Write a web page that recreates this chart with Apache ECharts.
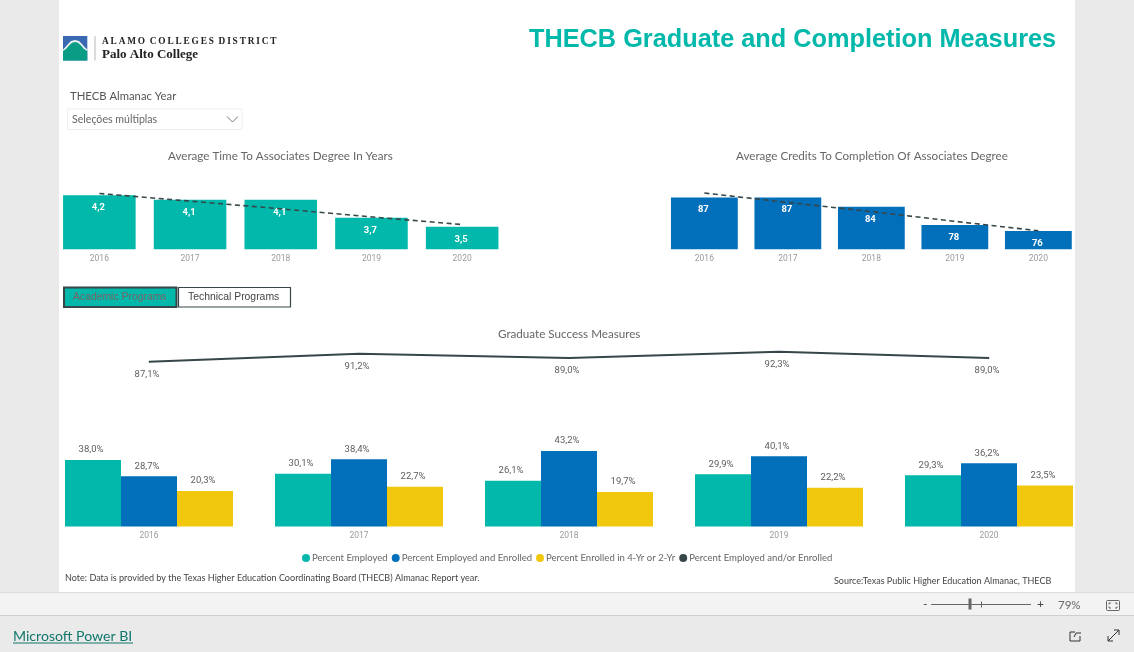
<!DOCTYPE html>
<html><head><meta charset="utf-8">
<style>html,body{margin:0;padding:0;background:#eaeaea;overflow:hidden}#c{width:1134px;height:652px}</style>
<script src="https://cdn.jsdelivr.net/npm/echarts@6/dist/echarts.min.js"></script></head>
<body><div id="c"></div>
<script>
const years = ['2016','2017','2018','2019','2020'];
const timeYears = [4.2,4.1,4.1,3.7,3.5];
const timeTrend = [4.24,4.07,3.90,3.72,3.55];
const credits = [87,87,84,78,76];
const creditsTrend = [88.5,85.4,82.4,79.2,76.1];
const pctEmployed = [38.0,30.1,26.1,29.9,29.3];
const pctEmpEnrolled = [28.7,38.4,43.2,40.1,36.2];
const pctEnrolled = [20.3,22.7,19.7,22.2,23.5];
const pctAny = [87.1,91.2,89.0,92.3,89.0];
const TEAL='#01B8AA', BLUE='#016FB9', GOLD='#F2C80F', DARK='#374649';
const NUM='Roboto', TXT='Lato';
const comma=(v,s='')=>v.toFixed(s?1:(v>=10?0:1)).replace('.',',')+s;
const xa=(i)=>({type:'category',gridIndex:i,data:years,axisLine:{show:false},axisTick:{show:false},
  axisLabel:{color:'#9a9a9a',fontFamily:NUM,fontSize:8.5,margin:5}});
const ya=(i,min,max)=>({type:'value',gridIndex:i,min,max,show:false,splitLine:{show:false}});
const trend=(i,d)=>({type:'line',xAxisIndex:i,yAxisIndex:i,data:d,symbol:'none',silent:true,z:5,
  lineStyle:{color:DARK,width:1.6,type:[5,3.5]}});
const topBar=(i,d,c)=>({type:'bar',xAxisIndex:i,yAxisIndex:i,data:d,barCategoryGap:'20%',itemStyle:{color:c},z:3,
  label:{show:true,position:'insideTop',distance:7.5,offset:[-1,0],color:'#fff',fontFamily:NUM,fontWeight:'bold',fontSize:9.5,
    formatter:p=>comma(p.value)}});
const clBar=(name,d,c)=>({name,type:'bar',xAxisIndex:2,yAxisIndex:2,data:d,barGap:0,barCategoryGap:'20%',itemStyle:{color:c},
  label:{show:true,position:'top',distance:5,offset:[-2,0],color:'#605e5c',fontFamily:NUM,fontSize:9.5,formatter:p=>comma(p.value,'%')}});
const T=(text,x,y,o={})=>({type:'text',x,y,z:20,style:Object.assign({text,fill:'#555',fontFamily:TXT,fontSize:12,textVerticalAlign:'middle',verticalAlign:'middle'},o)});
const R=(x,y,w,h,fill,stroke,lw=1,z=1)=>({type:'rect',z,shape:{x,y,width:w,height:h},style:{fill,stroke,lineWidth:lw}});
const PL=(pts,stroke,lw=1)=>({type:'polyline',z:20,shape:{points:pts},style:{stroke,lineWidth:lw,fill:null}});
const PG=(pts,fill,z=15)=>({type:'polygon',z,shape:{points:pts},style:{fill}});
const chrome=[
 R(59,0,1016,592,'#fff',null,0,0),
 R(0,592,1134,23,'#f3f3f3',null,0,0),
 R(0,592,1134,1,'#dcdcdc',null,0,0),
 R(0,615,1134,1,'#cfcfcf',null,0,0),
 // logo
 R(63,36,24.3,24.5,'#3A69B2',null,0,14),
 PG([[63,49.5],[65,47.5],[68,44],[71,41],[75,40],[79,41],[82,44],[85,47.5],[87.3,49.5],[87.3,54],[63,54]],'#e8f3f0'),
 PG([[63,51],[66,49],[69,45.5],[72,42.8],[75,42],[78,42.8],[81,45.5],[84,49],[87.3,51],[87.3,60.5],[63,60.5]],'#0B9C85',16),
 R(94.5,36,1,24.5,'#b9b9b9',null,0,14),
 T('A\u2009L\u2009A\u2009M\u2009O  C\u2009O\u2009L\u2009L\u2009E\u2009G\u2009E\u2009S  D\u2009I\u2009S\u2009T\u2009R\u2009I\u2009C\u2009T',102,41.5,{fontFamily:'Liberation Serif',fontWeight:'bold',fontSize:9.3,fill:'#222'}),
 T('Palo Alto College',102,54.5,{fontFamily:'Liberation Serif',fontWeight:'bold',fontSize:13,fill:'#222'}),
 // slicer
 T('THECB Almanac Year',70,96,{fontSize:11.3,fill:'#555'}),
 R(67.5,109,174.5,20.5,'#fff','#eeeeee',1,2),
 T('Seleções múltiplas',72,120,{fontSize:10.6,fill:'#666'}),
 PL([[227,116.5],[232.5,122],[238,116.5]],'#777',1),
 // buttons
 R(64,287.5,112.5,19.5,TEAL,DARK,2,2),
 T('Academic Programs',73,297,{fontFamily:'Liberation Sans',fontSize:10.4,fill:'#7a6266'}),
 R(178.5,287.5,112,19.5,'#fff',DARK,1.2,2),
 T('Technical Programs',188,297,{fontFamily:'Liberation Sans',fontSize:10.4,fill:'#444'}),
 // notes
 T('Note: Data is provided by the Texas Higher Education Coordinating Board (THECB) Almanac Report year.',65,578,{fontSize:9.05,fill:'#444'}),
 T('Source:Texas Public Higher Education Almanac, THECB',834,581,{fontSize:9,fill:'#444'}),
 // footer
 T('-',923,604,{fontSize:12,fill:'#444'}),
 R(931,604,100,1,'#666',null,0,20),
 R(968.5,598.5,3,11,'#666',null,0,20),
 R(981,601.5,1,6,'#666',null,0,20),
 T('+',1037,604,{fontSize:12,fill:'#444'}),
 T('79%',1058,605,{fontSize:11.5,fill:'#666'}),
 {type:'rect',z:20,shape:{x:1106.5,y:600.5,width:13,height:10,r:1},style:{fill:null,stroke:'#666',lineWidth:1}},
 PL([[1109,604.5],[1109,603],[1111,603]],'#666',1),
 PL([[1115,603],[1117,603],[1117,604.5]],'#666',1),
 PL([[1109,606.5],[1109,608],[1111,608]],'#666',1),
 PL([[1115,608],[1117,608],[1117,606.5]],'#666',1),
 T('Microsoft Power BI',13,636,{fontFamily:TXT,fontSize:14.1,fill:'#11776b'}),
 R(13,642.5,120,1,'#11776b',null,0,20),
 PL([[1075,632],[1070,632],[1070,641],[1080,641],[1080,636]],'#333',1),
 PL([[1074,637],[1076,633],[1081,633]],'#333',1),
 PL([[1108,641],[1119,630]],'#333',1),
 PL([[1108,636],[1108,641],[1113,641]],'#333',1),
 PL([[1114,630],[1119,630],[1119,635]],'#333',1),
];
const subT=(text,left,top)=>({text,left,top,padding:0,textStyle:{color:'#666',fontFamily:TXT,fontWeight:'normal',fontSize:11.65}});
const option={
 animation:false,backgroundColor:'transparent',
 title:[
  {text:'THECB Graduate and Completion Measures',left:529,top:27.5,padding:0,textStyle:{color:TEAL,fontFamily:'Liberation Sans',fontWeight:'bold',fontSize:25.3}},
  subT('Average Time To Associates Degree In Years',168,150.5),
  subT('Average Credits To Completion Of Associates Degree',736,150.5),
  subT('Graduate Success Measures',498,328.5),
 ],
 legend:{left:297,top:548,itemWidth:8,itemHeight:8,itemGap:4,icon:'circle',
  data:['Percent Employed','Percent Employed and Enrolled','Percent Enrolled in 4-Yr or 2-Yr','Percent Employed and/or Enrolled'],
  textStyle:{color:'#666',fontFamily:TXT,fontSize:9.55,padding:[0,0,0,-3]}},
 grid:[
  {left:54,width:453.5,top:159.3,height:90},
  {left:662.6,width:417.5,top:158.1,height:91.2},
  {left:44,width:1050,top:439,height:87.5},
  {left:44,width:1050,top:336.9,height:38.5},
 ],
 xAxis:[xa(0),xa(1),xa(2),Object.assign(xa(3),{show:false})],
 yAxis:[ya(0,3,5),ya(1,70,100),ya(2,0,50),ya(3,80,100)],
 series:[
  topBar(0,timeYears,TEAL),trend(0,timeTrend),
  topBar(1,credits,BLUE),trend(1,creditsTrend),
  clBar('Percent Employed',pctEmployed,TEAL),
  clBar('Percent Employed and Enrolled',pctEmpEnrolled,BLUE),
  clBar('Percent Enrolled in 4-Yr or 2-Yr',pctEnrolled,GOLD),
  {name:'Percent Employed and/or Enrolled',type:'line',xAxisIndex:3,yAxisIndex:3,data:pctAny,symbol:'circle',symbolSize:1,showSymbol:true,showAllSymbol:true,itemStyle:{color:DARK},
   lineStyle:{color:DARK,width:2},label:{show:true,position:'bottom',distance:7,offset:[-2,0],color:'#605e5c',fontFamily:NUM,fontSize:9.5,formatter:p=>comma(p.value,'%')}},
 ],
 graphic:{elements:chrome},
};
echarts.init(document.getElementById('c')).setOption(option);
</script></body></html>
